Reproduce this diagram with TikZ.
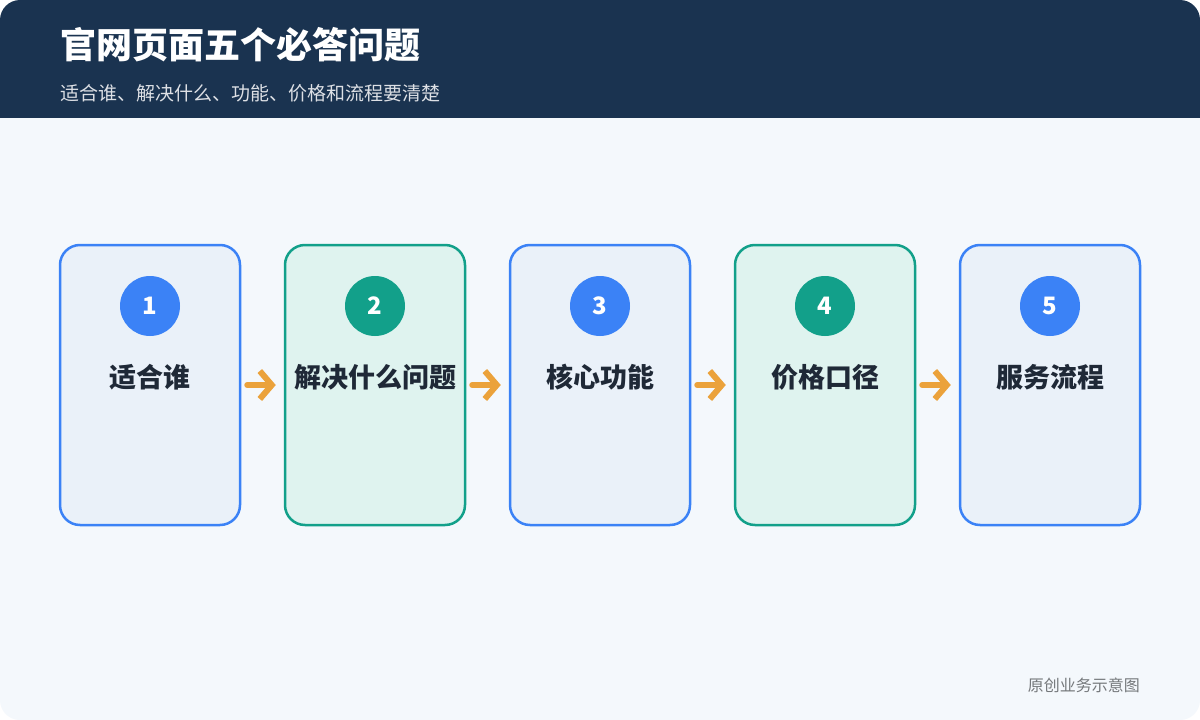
\documentclass[tikz,border=0pt]{standalone}
\usepackage{fontspec}
\setmainfont{Noto Sans CJK SC}
\usetikzlibrary{arrows.meta,positioning}
\definecolor{navy}{HTML}{1A3350}
\definecolor{pagebg}{HTML}{F4F8FC}
\definecolor{blueline}{HTML}{3B82F6}
\definecolor{bluefill}{HTML}{EAF1F9}
\definecolor{tealline}{HTML}{12A08A}
\definecolor{tealfill}{HTML}{DFF3EF}
\definecolor{arrowc}{HTML}{EBA23B}
\definecolor{textc}{HTML}{1F2937}
\tikzset{
  card/.style={draw=#1line, fill=#1fill, line width=2.5pt, rounded corners=20pt,
    minimum width=180pt, minimum height=280pt, inner sep=0pt},
  num/.style={circle, fill=#1line, minimum size=60pt, inner sep=0pt,
    text=white, font=\fontsize{24}{24}\selectfont\bfseries},
  lbl/.style={text=textc, font=\fontsize{27}{27}\selectfont\bfseries},
  flow/.style={-{Straight Barb[length=12pt,width=28pt]}, draw=arrowc, line width=6pt, line cap=round}
}
\begin{document}
\begin{tikzpicture}[x=1pt,y=-1pt]
\useasboundingbox (0,0) rectangle (1200,720);
\fill[white] (0,0) rectangle (1200,720);
\fill[pagebg, rounded corners=20pt] (0,0) rectangle (1200,720);
\fill[navy, rounded corners=20pt] (0,0) rectangle (1200,40);
\fill[navy] (0,20) rectangle (1200,118);
\node[anchor=west, inner sep=0pt, text=white, font=\fontsize{36}{36}\selectfont\bfseries] (title) at (60,45) {官网页面五个必答问题};
\node[anchor=west, inner sep=0pt, text=white!85!navy, font=\fontsize{19}{19}\selectfont] (sub) at (60,93) {适合谁、解决什么、功能、价格和流程要清楚};
\foreach \i/\c/\t in {1/blue/适合谁, 2/teal/解决什么问题, 3/blue/核心功能, 4/teal/价格口径, 5/blue/服务流程} {
  \node[card=\c] (card\i) at (150+225*\i-225,385) {};
  \node[num=\c] (n\i) at (150+225*\i-225,306) {\i};
  \node[lbl] (l\i) at (150+225*\i-225,377) {\t};
}
\foreach \i/\j in {1/2,2/3,3/4,4/5}
  \draw[flow] ([xshift=6pt]card\i.east) -- ([xshift=-8pt]card\j.west);
\node[anchor=east, inner sep=0pt, text=gray!90!navy, font=\fontsize{16}{16}\selectfont] (foot) at (1140,685) {原创业务示意图};
\end{tikzpicture}
\end{document}
